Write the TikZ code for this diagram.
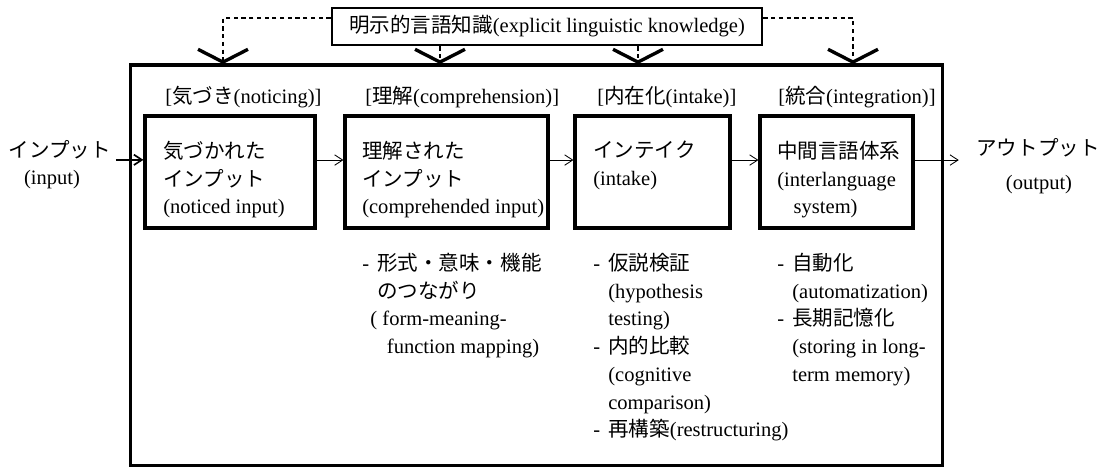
\documentclass[tikz,border=0pt]{standalone}
\usepackage{fontspec}
\setmainfont{Liberation Serif}
\newfontfamily\jpfont{Noto Sans CJK JP}
\newcommand{\ja}[1]{{\jpfont #1}}
\newcommand{\itm}{-\hspace{.4em}}
\newcommand{\ind}{\hphantom{\itm}}
\usetikzlibrary{arrows.meta}

\begin{document}
\begin{tikzpicture}[x=0.025cm,y=-0.025cm,font=\fontsize{14.6}{19.7}\selectfont,
  >={Straight Barb[length=2mm,width=2.6mm]},
  stagebox/.style={draw,line width=2.2pt,minimum height=2.8cm,inner sep=0pt},
  txt/.style={align=left,anchor=north west,inner sep=0pt},
  flow/.style={->,line width=0.6pt},
  hint/.style={line width=2pt,dash pattern=on 3pt off 2.5pt,
    -{Straight Barb[length=3.2mm,width=12.5mm,line width=2.4pt]}}]
\useasboundingbox (0,0) rectangle (1101,468);

% outer frame and the explicit knowledge box
\node[draw,line width=2.2pt,minimum width=20.3cm,minimum height=10.01cm,inner sep=0pt] (frame) at (536.5,265.25) {};
\node[draw,line width=1.9pt,minimum width=10.75cm,minimum height=0.925cm,inner sep=0pt] (know) at (547,26.5)
  {\ja{明示的言語知識}(explicit linguistic knowledge)};
\coordinate (c1) at (223,64);
\coordinate (c2) at (440,64);
\coordinate (c3) at (638,64);
\coordinate (c4) at (853,64);
\draw[hint] ([yshift=6pt]know.west) -| (c1);
\draw[hint] (know.south -| c2) -- (c2);
\draw[hint] (know.south -| c3) -- (c3);
\draw[hint] ([yshift=6pt]know.east) -| (c4);

% stages
\node[anchor=west,inner sep=0pt] (lab1) at (165,97) {[\ja{気づき}(noticing)]};
\node[anchor=west,inner sep=0pt] (lab2) at (365,97) {[\ja{理解}(comprehension)]};
\node[anchor=west,inner sep=0pt] (lab3) at (597,97) {[\ja{内在化}(intake)]};
\node[anchor=west,inner sep=0pt] (lab4) at (778,97) {[\ja{統合}(integration)]};

\node[stagebox,minimum width=4.25cm] (box1) at (230,172) {};
\node[stagebox,minimum width=5.075cm] (box2) at (446.5,172) {};
\node[stagebox,minimum width=3.875cm] (box3) at (652.5,172) {};
\node[stagebox,minimum width=3.825cm] (box4) at (836.5,172) {};

\node[txt] (txt1) at (163,141) {\ja{気づかれた}\\\ja{インプット}\\(noticed input)};
\node[txt] (txt2) at (362,141) {\ja{理解された}\\\ja{インプット}\\(comprehended input)};
\node[txt] (txt3) at (593,141) {\ja{インテイク}\\(intake)};
\node[txt] (txt4) at (777,141) {\ja{中間言語体系}\\(interlanguage\\\hspace*{.8em}system)};

% input and output
\node (inp) at (60,150) {\ja{インプット}};
\node (inpen) at (52,180) {(input)};
\node (outp) at (1038,148) {\ja{アウトプット}};
\node (outpen) at (1039,185) {(output)};

\draw[->,line width=1.2pt] ([yshift=-7pt]inp.east) -- ([yshift=-7pt]inp.east -| box1.west);
\draw[flow] ([yshift=8.5pt]box1.east) -- ([yshift=8.5pt]box2.west);
\draw[flow] ([yshift=8.5pt]box2.east) -- ([yshift=8.5pt]box3.west);
\draw[flow] ([yshift=8.5pt]box3.east) -- ([yshift=8.5pt]box4.west);
\draw[flow,shorten >=9pt] ([yshift=8.5pt]box4.east) -- ([yshift=8.5pt]box4.east -| outp.west);

% processes below the boxes
\node[txt] (list2) at (362,253) {\itm\ja{形式・意味・機能}\\\ind\ja{のつながり}\\\hspace*{.4em}( form-meaning-\\\hspace*{1.2em}function mapping)};
\node[txt] (list3) at (593,253) {\itm\ja{仮説検証}\\\ind(hypothesis\\\ind testing)\\\itm\ja{内的比較}\\\ind(cognitive\\\ind comparison)\\\itm\ja{再構築}(restructuring)};
\node[txt] (list4) at (777,253) {\itm\ja{自動化}\\\ind(automatization)\\\itm\ja{長期記憶化}\\\ind(storing in long-\\\ind term memory)};
\end{tikzpicture}
\end{document}
